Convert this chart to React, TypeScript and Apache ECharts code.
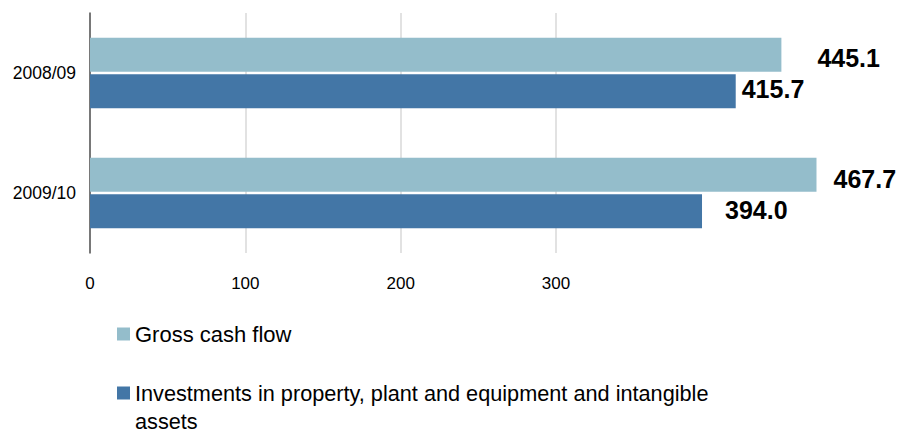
import React, { useEffect, useRef } from "react";
import * as echarts from "echarts";

const categories = ["2008/09", "2009/10"];
const seriesNames = [
  "Gross cash flow",
  "Investments in property, plant and equipment and intangible assets",
];
const grossCashFlow = [445.1, 467.7];
const investments = [415.7, 394.0];
const xTicks = [0, 100, 200, 300];

// label offsets (style only)
const grossLabelOffsets = [[36, 3], [17, 4]];
const invLabelOffsets = [[6, -2], [23, -1]];

const FONT = "'Liberation Sans', Arial, Helvetica, sans-serif";
const LIGHT = "#94BDCB";
const DARK = "#4376A6";

export default function App() {
  const ref = useRef<HTMLDivElement>(null);
  useEffect(() => {
    if (!ref.current) return;
    const chart = echarts.init(ref.current, null, { renderer: "svg" });
    const labelBase = {
      show: true,
      position: "right",
      distance: 0,
      fontFamily: FONT,
      fontSize: 25,
      fontWeight: "bold",
      color: "#000",
      formatter: (p: any) => Number(p.value).toFixed(1),
    };
    chart.setOption({
      animation: false,
      textStyle: { fontFamily: FONT },
      grid: { left: 90, right: 343, top: 13, height: 240 },
      xAxis: {
        type: "value",
        min: xTicks[0],
        max: xTicks[xTicks.length - 1],
        interval: 100,
        axisLine: { show: false },
        axisTick: { show: false },
        axisLabel: { color: "#000", fontSize: 17, fontFamily: FONT, margin: 22 },
        splitLine: { show: true, lineStyle: { color: "#d9d9d9", width: 1.5 } },
      },
      yAxis: {
        type: "category",
        data: categories,
        inverse: true,
        axisLine: { show: true, lineStyle: { color: "#555", width: 1.5 } },
        axisTick: { show: false },
        axisLabel: { color: "#000", fontSize: 17.5, fontFamily: FONT, margin: 14 },
        splitLine: { show: false },
      },
      legend: [
        {
          left: 117,
          top: 320,
          padding: 0,
          itemWidth: 13,
          itemHeight: 13,
          icon: "rect",
          selectedMode: false,
          data: [seriesNames[0]],
          textStyle: { fontSize: 22, color: "#000", fontFamily: FONT, lineHeight: 28 },
        },
        {
          left: 117,
          top: 351,
          padding: 0,
          itemWidth: 13,
          itemHeight: 13,
          icon: "rect",
          selectedMode: false,
          data: [seriesNames[1]],
          formatter: () =>
            "\u00a0\nInvestments in property, plant and equipment and intangible\nassets",
          textStyle: { fontSize: 21.7, color: "#000", fontFamily: FONT, lineHeight: 28 },
        },
      ],
      series: [
        {
          name: seriesNames[0],
          type: "bar",
          clip: false,
          barWidth: 34,
          barGap: "8%",
          itemStyle: { color: LIGHT },
          data: grossCashFlow.map((v, i) => ({
            value: v,
            label: { ...labelBase, offset: grossLabelOffsets[i] },
          })),
          label: labelBase,
        },
        {
          name: seriesNames[1],
          type: "bar",
          clip: false,
          barWidth: 34,
          barGap: "8%",
          itemStyle: { color: DARK },
          data: investments.map((v, i) => ({
            value: v,
            label: { ...labelBase, offset: invLabelOffsets[i] },
          })),
          label: labelBase,
        },
      ],
    });
    return () => chart.dispose();
  }, []);
  return (
    <div
      ref={ref}
      style={{ position: "fixed", left: 0, top: 0, width: 899, height: 429, background: "#fff" }}
    />
  );
}
